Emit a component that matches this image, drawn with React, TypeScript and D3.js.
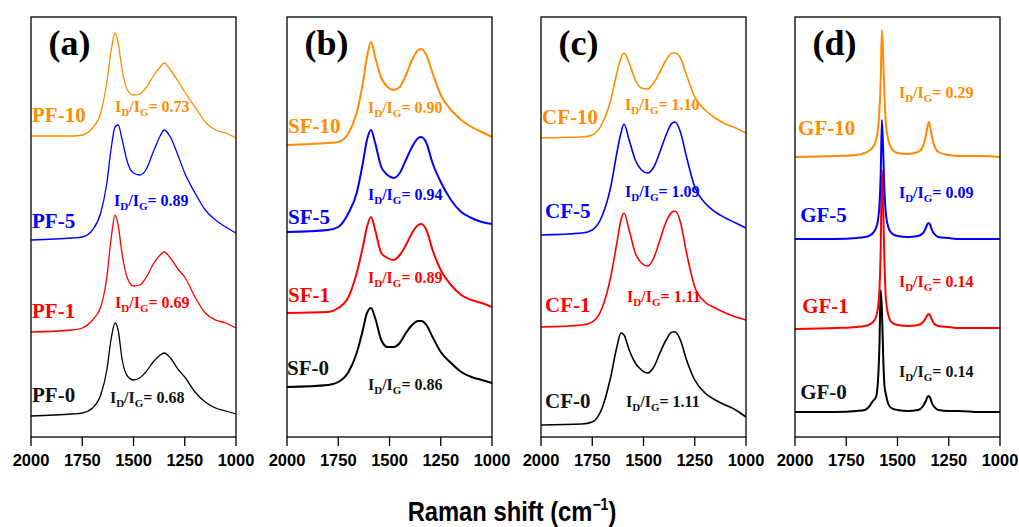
import React from "react";
import * as d3 from "d3";

// Raman shift sampling grids (cm^-1), one per panel
const shiftA = [2000, 1800, 1750, 1700, 1660, 1630, 1610, 1590, 1575, 1555, 1530, 1500, 1470, 1440, 1400, 1370, 1350, 1320, 1280, 1250, 1200, 1150, 1100, 1050, 1000];
const shiftB = [2000, 1800, 1750, 1700, 1660, 1630, 1610, 1590, 1570, 1540, 1510, 1480, 1450, 1420, 1390, 1360, 1345, 1320, 1290, 1250, 1200, 1150, 1100, 1050, 1000];
const shiftC = [2000, 1800, 1750, 1700, 1660, 1630, 1610, 1595, 1570, 1540, 1510, 1480, 1450, 1420, 1390, 1360, 1345, 1320, 1290, 1250, 1200, 1150, 1100, 1050, 1000];
const shiftD = [2000, 1800, 1700, 1660, 1640, 1620, 1605, 1595, 1588, 1582, 1576, 1570, 1564, 1556, 1545, 1530, 1500, 1450, 1400, 1375, 1362, 1354, 1347, 1340, 1332, 1320, 1300, 1250, 1200, 1100, 1000];

// Stacked intensities (a.u., vertically offset spectra)
const pf0 = [21, 23, 24, 29, 42, 67, 97, 114, 107, 77, 61, 57, 59, 65, 76, 82, 84, 79, 67, 60, 45, 35, 29, 26, 23];
const pf1 = [105, 107, 109, 117, 130, 160, 197, 222, 212, 182, 159, 151, 152, 159, 174, 182, 185, 179, 167, 160, 140, 124, 117, 114, 109];
const pf5 = [197, 199, 200, 207, 224, 254, 287, 310, 312, 297, 275, 264, 262, 267, 287, 301, 307, 300, 280, 264, 244, 227, 217, 210, 204];
const pf10 = [301, 301, 302, 309, 324, 355, 385, 404, 394, 367, 347, 342, 343, 349, 362, 370, 374, 367, 355, 345, 330, 315, 307, 304, 299];

const sf0 = [50, 52, 55, 65, 84, 107, 124, 129, 119, 97, 90, 90, 94, 104, 112, 116, 116, 112, 100, 85, 74, 65, 60, 57, 54];
const sf1 = [124, 125, 129, 140, 164, 190, 210, 220, 207, 184, 179, 177, 182, 192, 204, 212, 213, 207, 187, 167, 152, 142, 137, 134, 130];
const sf5 = [205, 207, 210, 224, 244, 274, 297, 307, 294, 270, 262, 259, 264, 277, 290, 299, 300, 294, 274, 255, 237, 225, 219, 215, 213];
const sf10 = [292, 294, 295, 304, 324, 354, 380, 395, 380, 359, 350, 347, 350, 362, 377, 387, 388, 382, 364, 342, 327, 317, 310, 305, 300];

const cf0 = [12, 13, 15, 30, 60, 90, 104, 102, 87, 74, 67, 64, 70, 84, 97, 105, 105, 97, 77, 57, 44, 37, 32, 27, 20];
const cf1 = [110, 112, 115, 130, 160, 194, 217, 224, 207, 184, 174, 171, 179, 197, 215, 225, 226, 215, 184, 150, 135, 129, 124, 120, 117];
const cf5 = [202, 204, 207, 222, 250, 284, 304, 313, 297, 277, 267, 264, 270, 285, 302, 314, 315, 305, 280, 250, 234, 225, 219, 214, 209];
const cf10 = [299, 300, 302, 314, 337, 364, 379, 384, 374, 357, 349, 348, 354, 365, 377, 384, 384, 379, 362, 340, 327, 319, 313, 309, 304];

const gf0 = [25, 25, 26, 27, 30, 36, 40, 57, 92, 147, 127, 82, 52, 42, 33, 29, 27, 26, 27, 31, 36, 40, 41, 39, 34, 30, 27, 26, 26, 25, 25];
const gf1 = [108, 109, 110, 111, 112, 115, 120, 130, 147, 187, 267, 232, 177, 137, 122, 115, 112, 111, 112, 115, 119, 122, 123, 121, 117, 113, 111, 110, 109, 109, 109];
const gf5 = [198, 198, 199, 200, 201, 204, 209, 217, 232, 262, 317, 287, 247, 222, 210, 204, 201, 200, 201, 204, 209, 213, 214, 212, 207, 203, 200, 199, 198, 198, 198];
const gf10 = [280, 281, 282, 284, 286, 290, 297, 309, 327, 357, 407, 382, 342, 312, 297, 289, 284, 283, 285, 291, 301, 310, 315, 310, 300, 291, 285, 282, 281, 281, 280];

// Sample names and I_D/I_G ratios, ordered 0, 1, 5, 10
const namesPF = ["PF-0", "PF-1", "PF-5", "PF-10"];
const namesSF = ["SF-0", "SF-1", "SF-5", "SF-10"];
const namesCF = ["CF-0", "CF-1", "CF-5", "CF-10"];
const namesGF = ["GF-0", "GF-1", "GF-5", "GF-10"];
const ratioPF = ["0.68", "0.69", "0.89", "0.73"];
const ratioSF = ["0.86", "0.89", "0.94", "0.90"];
const ratioCF = ["1.11", "1.11", "1.09", "1.10"];
const ratioGF = ["0.14", "0.14", "0.09", "0.29"];

const xTicks = [2000, 1750, 1500, 1250, 1000];
const panelTags = ["(a)", "(b)", "(c)", "(d)"];

const colors = ["#000000", "#FF0000", "#0000FF", "#FF8C00"];

// Label anchors in data units: [shift, intensity]
const nameAnchors = [
  [[1995, 35], [1995, 119], [1995, 209], [1995, 315]],
  [[2000, 62], [1995, 135], [1995, 213], [1995, 304]],
  [[1980, 29], [1980, 125], [1980, 219], [1995, 313]],
  [[1975, 38], [1965, 124], [1975, 215], [1985, 302]],
];
const ratioAnchors = [
  [[1615, 34], [1590, 129], [1595, 231], [1590, 325]],
  [[1605, 47], [1605, 154], [1605, 237], [1605, 324]],
  [[1585, 30], [1580, 135], [1590, 240], [1590, 327]],
  [[1493, 60], [1493, 150], [1493, 239], [1493, 339]],
];

const panels = [
  { shift: shiftA, series: [pf0, pf1, pf5, pf10], names: namesPF, ratios: ratioPF, width: 1.3 },
  { shift: shiftB, series: [sf0, sf1, sf5, sf10], names: namesSF, ratios: ratioSF, width: 2 },
  { shift: shiftC, series: [cf0, cf1, cf5, cf10], names: namesCF, ratios: ratioCF, width: 1.6 },
  { shift: shiftD, series: [gf0, gf1, gf5, gf10], names: namesGF, ratios: ratioGF, width: 2 },
];

const W = 1019;
const H = 527;
const lefts = [31, 287, 541, 795];
const panelW = 205;
const top = 17;
const bottom = 437;

const serif = "'Liberation Serif', 'Times New Roman', serif";
const sans = "'Liberation Sans', Arial, sans-serif";

function Panel({ idx }: { idx: number }) {
  const p = panels[idx];
  const left = lefts[idx];
  const x = d3.scaleLinear().domain([2000, 1000]).range([left, left + panelW]);
  const y = d3.scaleLinear().domain([0, 420]).range([bottom, top]);
  return (
    <g>
      {p.series.map((vals, i) => {
        const pts = p.shift.map((s, k) => [s, vals[k]] as [number, number]);
        const line = d3
          .line<[number, number]>()
          .x((d) => x(d[0]))
          .y((d) => y(d[1]))
          .curve(d3.curveMonotoneX);
        return (
          <path
            key={i}
            d={line(pts) || ""}
            fill="none"
            stroke={colors[i]}
            strokeWidth={p.width}
            strokeLinejoin="round"
          />
        );
      })}
      <rect x={left} y={top} width={panelW} height={bottom - top} fill="none" stroke="#000" strokeWidth={1.3} />
      {xTicks.map((t) => (
        <g key={t}>
          <line x1={x(t)} x2={x(t)} y1={bottom} y2={bottom + 9} stroke="#000" strokeWidth={1.3} />
          <text
            x={x(t)}
            y={466}
            textAnchor="middle"
            fontFamily={sans}
            fontWeight="bold"
            fontSize={16.5}
          >
            {t}
          </text>
        </g>
      ))}
      <text x={x(1915)} y={y(382)} fontFamily={serif} fontWeight="bold" fontSize={36}>
        {panelTags[idx]}
      </text>
      {p.names.map((n, i) => {
        const a = nameAnchors[idx][i];
        return (
          <text key={n} x={x(a[0])} y={y(a[1])} fill={colors[i] === "#000000" ? "#111" : colors[i]} fontFamily={serif} fontWeight="bold" fontSize={21}>
            {n}
          </text>
        );
      })}
      {p.ratios.map((r, i) => {
        const a = ratioAnchors[idx][i];
        return (
          <text key={i} x={x(a[0])} y={y(a[1])} fill={colors[i] === "#000000" ? "#111" : colors[i]} fontFamily={serif} fontWeight="bold" fontSize={16}>
            I
            <tspan fontSize={11} dy={4}>D</tspan>
            <tspan dy={-4}>/I</tspan>
            <tspan fontSize={11} dy={4}>G</tspan>
            <tspan dy={-4}>{"= " + r}</tspan>
          </text>
        );
      })}
    </g>
  );
}

export default function App() {
  return (
    <svg
      width={W}
      height={H}
      viewBox={`0 0 ${W} ${H}`}
      style={{ position: "absolute", left: 0, top: 0, background: "#fff" }}
    >
      <rect x={0} y={0} width={W} height={H} fill="#fff" />
      {panels.map((_, i) => (
        <Panel key={i} idx={i} />
      ))}
      <g transform="translate(512,521) scale(0.88,1)">
        <text
          x={0}
          y={0}
          textAnchor="middle"
          fontFamily={sans}
          fontWeight="bold"
          fontSize={27}
        >
          Raman shift (cm
          <tspan fontSize={16} dy={-11}>−1</tspan>
          <tspan dy={11}>)</tspan>
        </text>
      </g>
    </svg>
  );
}
